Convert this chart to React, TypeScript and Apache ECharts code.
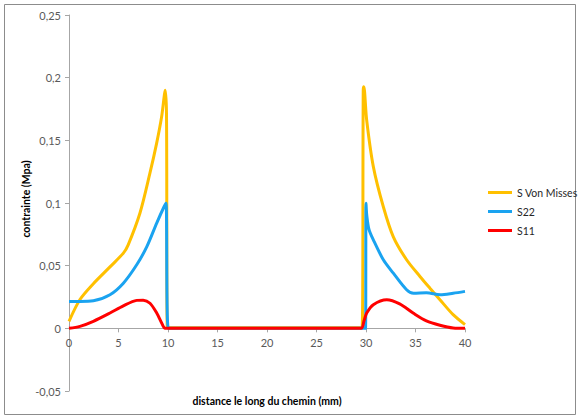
import React, { useEffect, useRef } from "react";
import * as echarts from "echarts";

const vmX = [0, 1.11, 2.46, 4.14, 5.49, 5.98, 7.17, 8.18, 8.86, 9.36, 9.73, 9.85, 9.93, 10.1, 15, 20, 25, 29.6, 29.72, 29.78, 30.07, 30.74, 31.75, 32.76, 34.1, 35.45, 36.46, 37.47, 38.8, 40];
const vmY = [0.0056, 0.023, 0.0356, 0.049, 0.06, 0.0666, 0.092, 0.124, 0.148, 0.169, 0.19, 0.17, 0.0005, 0.0005, 0.0005, 0.0005, 0.0005, 0.0005, 0.19, 0.1927, 0.166, 0.129, 0.097, 0.073, 0.0547, 0.0414, 0.032, 0.0228, 0.0109, 0.003];

const s22X = [0, 1.11, 2.46, 4.14, 5.49, 6.84, 7.85, 8.86, 9.6, 9.8, 10.03, 15, 20, 25, 29.95, 30.0, 30.08, 30.3, 30.74, 31.75, 32.76, 34.1, 34.8, 36.1, 37.5, 38.8, 40];
const s22Y = [0.0215, 0.0215, 0.022, 0.0268, 0.036, 0.0507, 0.065, 0.084, 0.097, 0.0998, 0, 0, 0, 0, 0, 0.0998, 0.09, 0.079, 0.0706, 0.0547, 0.044, 0.0308, 0.028, 0.0283, 0.0268, 0.028, 0.0295];

const s11X = [0, 1.11, 2.46, 4.14, 5.49, 6.84, 7.5, 8.18, 8.86, 9.36, 9.7, 10.03, 15, 20, 25, 29.5, 29.8, 30.07, 30.74, 32.1, 33.4, 34.8, 36.1, 37.47, 38.8, 40];
const s11Y = [0, 0.0016, 0.0056, 0.0122, 0.018, 0.0223, 0.0225, 0.02, 0.0122, 0.0043, 0, 0, 0, 0, 0, 0, 0.006, 0.0122, 0.0189, 0.0228, 0.0195, 0.012, 0.006, 0.0025, 0.0003, 0];

const seriesNames = ["S Von Misses", "S22", "S11"];
const seriesColors = ["#FFC000", "#1AA3F0", "#FF0000"];

const zip = (xs: number[], ys: number[]) => xs.map((x, i) => [x, ys[i]]);

export default function App() {
  const ref = useRef<HTMLDivElement>(null);
  useEffect(() => {
    const chart = echarts.init(ref.current!, undefined, { renderer: "svg" });
    const font = "Lato, 'Liberation Sans', sans-serif";
    const datasets = [zip(vmX, vmY), zip(s22X, s22Y), zip(s11X, s11Y)];
    const gridTop = 15;
    const gridBottom = 27;
    const plotH = 418 - gridTop - gridBottom;
    const zeroOffset = plotH * (0.05 / 0.3);
    chart.setOption({
      animation: false,
      backgroundColor: "#ffffff",
      grid: { left: 69, right: 114, top: gridTop, bottom: gridBottom, containLabel: false },
      legend: {
        orient: "vertical",
        left: 483,
        top: 182,
        itemWidth: 24,
        itemHeight: 3,
        itemGap: 8,
        icon: "rect",
        data: seriesNames,
        textStyle: { fontFamily: font, fontSize: 10.5, color: "#262626" },
      },
      xAxis: {
        type: "value",
        min: 0,
        max: 40,
        interval: 5,
        offset: -zeroOffset,
        axisLine: { onZero: false, lineStyle: { color: "#A6A6A6" } },
        axisTick: { show: true, length: 4, lineStyle: { color: "#A6A6A6" } },
        axisLabel: { color: "#595959", fontFamily: font, fontSize: 11, margin: 9 },
        splitLine: { show: false },
      },
      yAxis: {
        type: "value",
        min: -0.05,
        max: 0.25,
        interval: 0.05,
        axisLine: { show: true, lineStyle: { color: "#A6A6A6" } },
        axisTick: { show: true, length: 4, lineStyle: { color: "#A6A6A6" } },
        axisLabel: {
          color: "#595959",
          fontFamily: font,
          fontSize: 11,
          margin: 8,
          formatter: (v: number) => String(Math.round(v * 100) / 100).replace(".", ","),
        },
        splitLine: { show: false },
      },
      graphic: [
        {
          type: "rect",
          shape: { x: 4.5, y: 4.5, width: 571, height: 410 },
          style: { fill: "none", stroke: "#8C8C8C", lineWidth: 1 },
          silent: true,
        },
        {
          type: "text",
          x: 267,
          y: 401,
          style: {
            text: "distance le long du chemin (mm)",
            fontFamily: font,
            fontSize: 10.5,
            fontWeight: "bold",
            fill: "#000",
            align: "center",
            verticalAlign: "middle",
          },
        },
        {
          type: "text",
          x: 26,
          y: 199,
          rotation: Math.PI / 2,
          style: {
            text: "contrainte (Mpa)",
            fontFamily: font,
            fontSize: 10.5,
            fontWeight: "bold",
            fill: "#000",
            align: "center",
            verticalAlign: "middle",
          },
        },
      ],
      series: seriesNames.map((name, i) => ({
        name,
        type: "line",
        data: datasets[i],
        smooth: 0.3,
        showSymbol: false,
        symbol: "none",
        color: seriesColors[i],
        lineStyle: { width: 3, color: seriesColors[i] },
      })),
    });
    return () => chart.dispose();
  }, []);
  return <div ref={ref} style={{ position: "fixed", left: 0, top: 0, width: 579, height: 418 }} />;
}
